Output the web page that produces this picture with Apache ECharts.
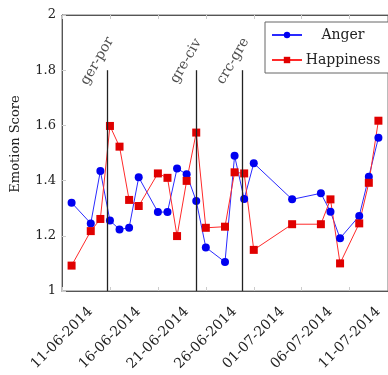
<!DOCTYPE html>
<html>
<head>
<meta charset="utf-8">
<script src="https://cdn.jsdelivr.net/npm/echarts@6/dist/echarts.min.js"></script>
<style>
html,body{margin:0;padding:0;background:#fff}
#chart{width:388px;height:375px}
</style>
</head>
<body>
<div id="chart"></div>
<script>
// data
var startDate = '11-06-2014';
var dates = ['12-06-2014','14-06-2014','15-06-2014','16-06-2014','17-06-2014','18-06-2014','19-06-2014',
  '21-06-2014','22-06-2014','23-06-2014','24-06-2014','25-06-2014','26-06-2014','28-06-2014',
  '29-06-2014','30-06-2014','01-07-2014','05-07-2014','08-07-2014','09-07-2014','10-07-2014',
  '12-07-2014','13-07-2014','14-07-2014'];
var anger = [1.32,1.245,1.435,1.255,1.223,1.229,1.412,1.286,1.286,1.444,1.423,1.326,1.158,1.105,
  1.49,1.333,1.463,1.332,1.354,1.287,1.191,1.272,1.414,1.555];
var happiness = [1.092,1.217,1.261,1.598,1.523,1.33,1.308,1.426,1.41,1.199,1.399,1.574,1.229,1.233,
  1.43,1.426,1.149,1.242,1.242,1.332,1.10,1.245,1.392,1.617];
var events = ['ger-por','gre-civ','crc-gre'];
var eventDays = [4.7, 13.95, 18.85];   // days after startDate
var eventTop = 1.8;

var DAY = 86400000;
function parseDate(s){
  var p = s.split('-');
  return Date.UTC(+p[2], +p[1]-1, +p[0]);
}
var t0 = parseDate(startDate);
function dayOf(s){ return (parseDate(s) - t0) / DAY; }
function pad(n){ return (n < 10 ? '0' : '') + n; }
function fmtDay(v){
  var d = new Date(t0 + v*DAY);
  return pad(d.getUTCDate()) + '-' + pad(d.getUTCMonth()+1) + '-' + d.getUTCFullYear();
}

var font = 'DejaVu Serif';
var xs = dates.map(dayOf);
var angerData = xs.map(function(x,i){ return [x, anger[i]]; });
var happyData = xs.map(function(x,i){ return [x, happiness[i]]; });

var myChart = echarts.init(document.getElementById('chart'));
var xAxisBase = {
  type: 'value', min: 0, max: 34, interval: 5,
  axisLine: {lineStyle: {color: '#555'}},
  axisTick: {inside: true, length: 4, lineStyle: {color: '#ccc'}},
  splitLine: {show: false}
};
var option = {
  animation: false,
  grid: {left: 62, top: 15, bottom: 84, right: -7, show: true, borderColor: '#777', borderWidth: 1},
  legend: {
    data: ['Anger','Happiness'],
    orient: 'vertical',
    left: 265, top: 22,
    backgroundColor: '#fff',
    borderColor: '#666', borderWidth: 1,
    padding: [6, 20, 6, 6],
    itemWidth: 30, itemHeight: 8, itemGap: 11,
    formatter: function(name){ return '{t|' + name + '}'; },
    textStyle: {
      fontFamily: font, fontSize: 14, color: '#222',
      rich: {t: {width: 72, align: 'center', fontFamily: font, fontSize: 14, color: '#222'}}
    }
  },
  xAxis: [
    Object.assign({}, xAxisBase, {
      position: 'bottom',
      axisLabel: {
        rotate: 45, align: 'center', verticalAlign: 'middle', margin: 47,
        showMaxLabel: false,
        fontFamily: font, fontSize: 14, color: '#222',
        formatter: fmtDay
      }
    }),
    Object.assign({}, xAxisBase, {position: 'top', axisLabel: {show: false}})
  ],
  yAxis: {
    type: 'value', min: 1, max: 2, interval: 0.2,
    name: 'Emotion Score', nameLocation: 'middle', nameGap: 40,
    nameTextStyle: {fontFamily: font, fontSize: 13, color: '#222', padding: [0, 0, 0, 18]},
    axisLine: {show: true, lineStyle: {color: '#555'}},
    axisTick: {show: true, inside: true, length: 4, lineStyle: {color: '#ccc'}},
    splitLine: {show: false},
    axisLabel: {fontFamily: font, fontSize: 13, color: '#222', margin: 6}
  },
  series: [
    {
      name: 'Anger', type: 'line', data: angerData,
      symbol: 'circle', symbolSize: 8,
      itemStyle: {color: '#0000f0'},
      lineStyle: {width: 1, color: '#2a2aff'},
      markLine: {
        silent: true, symbol: 'none',
        label: {show: false},
        lineStyle: {color: '#222', width: 1.3, type: 'solid'},
        data: eventDays.map(function(d){ return [{coord: [d, eventTop]}, {coord: [d, 1]}]; })
      }
    },
    {
      name: 'Happiness', type: 'line', data: happyData,
      symbol: 'rect', symbolSize: 8,
      itemStyle: {color: '#e00000'},
      lineStyle: {width: 1, color: '#ff2a2a'}
    },
    {
      type: 'scatter', silent: true, symbolSize: 0,
      data: eventDays.map(function(d,i){ return {name: events[i], value: [d, eventTop]}; }),
      label: {
        show: true, formatter: '{b}', position: 'inside', rotate: 60,
        offset: [3, -13],
        align: 'center', verticalAlign: 'middle',
        fontFamily: font, fontSize: 14, color: '#222'
      }
    }
  ]
};
myChart.setOption(option);
</script>
</body>
</html>
